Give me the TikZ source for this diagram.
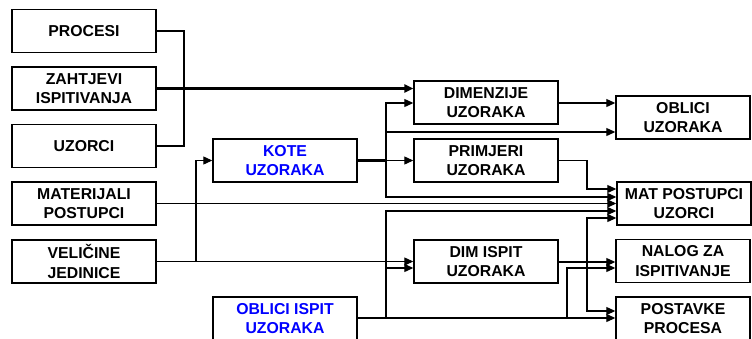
\documentclass[tikz,border=0pt]{standalone}
\usepackage{fontspec}
\setmainfont{Liberation Sans}
\usetikzlibrary{arrows.meta}
\begin{document}
\begin{tikzpicture}[x=1pt,y=-1pt,
  box/.style={draw, line width=1.4pt, minimum width=144pt, minimum height=43pt, inner sep=0pt, align=center, font=\fontsize{15.8}{19.5}\selectfont\bfseries},
  rbox/.style={box, minimum width=134pt},
  bluetext/.style={text={rgb,255:red,0;green,0;blue,255}},
  con/.style={line width=1.1pt},
  arr/.style={con, -{Triangle[length=9pt,width=8pt]}},
  thickcon/.style={line width=2.2pt},
  thickarr/.style={thickcon, -{Triangle[length=9pt,width=8pt]}}]
\useasboundingbox (0,0) rectangle (752,338);
\clip (0,0) rectangle (752,338);
% left column
\node[box] (procesi) at (84,31) {PROCESI};
\node[box] (zahtjevi) at (84,88.5) {ZAHTJEVI\\ISPITIVANJA};
\node[box] (uzorci) at (84,146) {UZORCI};
\node[box] (materijali) at (84,203.5) {MATERIJALI\\POSTUPCI};
\node[box] (velicine) at (84,261.5) {VELIČINE\\JEDINICE};
% second column
\node[box,bluetext] (kote) at (285,160.5) {KOTE\\UZORAKA};
\node[box,bluetext] (oblicii) at (285,318.5) {OBLICI ISPIT\\UZORAKA};
% third column
\node[box] (dimenzije) at (486,102.5) {DIMENZIJE\\UZORAKA};
\node[box] (primjeri) at (486,160.5) {PRIMJERI\\UZORAKA};
\node[box] (dimispit) at (486,261.5) {DIM ISPIT\\UZORAKA};
% right column
\node[rbox] (oblici) at (683,117.5) {OBLICI\\UZORAKA};
\node[rbox] (mat) at (684,203.5) {MAT POSTUPCI\\UZORCI};
\node[rbox] (nalog) at (683,261) {NALOG ZA\\ISPITIVANJE};
\node[rbox] (postavke) at (683,318.5) {POSTAVKE\\PROCESA};
% levels
\coordinate (y103) at (0,103);
\coordinate (y132) at (0,132);
\coordinate (y189) at (0,189);
\coordinate (y197) at (0,197);
\coordinate (y211) at (0,211);
\coordinate (y218) at (0,218);
\coordinate (y262) at (0,262);
\coordinate (y268) at (0,268);
\coordinate (y311) at (0,311);
\coordinate (y318) at (0,318);
% junctions
\coordinate (jb) at (184,31);
\coordinate (jv) at (196,261.5);
\coordinate (jk) at (386,160.5);
\coordinate (jk2) at (386,132);
\coordinate (jp) at (587,189);
\coordinate (jo) at (386,318);
\coordinate (jo2) at (567,318);
\coordinate (jd) at (587,262);
% connectors
\draw[con] (procesi.east) -- (jb) |- (uzorci.east);
\draw[thickarr] (zahtjevi.east) -- (dimenzije.west |- zahtjevi.east);
\draw[arr] (materijali.east) -- (mat.west |- materijali.east);
\draw[arr] (velicine.east) -- (dimispit.west);
\draw[arr] (jv) |- (kote.west);
\draw[thickcon] (kote.east) -- (jk);
\draw[arr] (jk) -- (primjeri.west);
\draw[arr] (jk) |- (dimenzije.west |- y103);
\draw[arr] (jk) |- (mat.west |- y197);
\draw[arr] (jk2) -- (oblici.west |- y132);
\draw[arr] (dimenzije.east |- y103) -- (oblici.west |- y103);
\draw[arr] (primjeri.east) -| (jp) -- (mat.west |- y189);
\draw[thickcon] (oblicii.east |- y318) -- (jo);
\draw[arr] (jo) -- (postavke.west |- y318);
\draw[arr] (jo) |- (dimispit.west |- y268);
\draw[arr] (jo) |- (mat.west |- y211);
\draw[arr] (jo2) |- (nalog.west |- y268);
\draw[arr] (dimispit.east |- y262) -- (nalog.west |- y262);
\draw[arr] (jd) |- (mat.west |- y218);
\draw[arr] (jd) |- (postavke.west |- y311);
\end{tikzpicture}
\end{document}
